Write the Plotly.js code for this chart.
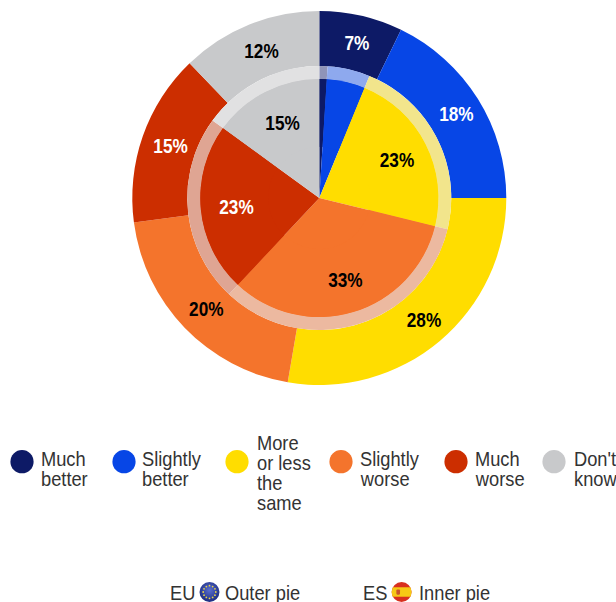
<!DOCTYPE html>
<html><head><meta charset="utf-8">
<script src="https://cdn.plot.ly/plotly-3.0.1.min.js"></script>
<style>html,body{margin:0;padding:0;background:#fff}</style></head>
<body><div id="chart" style="width:616px;height:602px"></div>
<script>
const categories = ["Much better","Slightly better","More or less the same","Slightly worse","Much worse","Don't know"];
const euOuter = [7.2,17.8,27.7,20.2,14.9,12.2];
const esInner = [1,5.2,22.6,33.2,23,15];
const euText = ["7%","18%","28%","20%","15%","12%"];
const esText = ["","","23%","33%","23%","15%"];
const colors = ["#0d1a66","#0746e6","#ffdd00","#f4742c","#cc2e00","#c8c9cb"];
const ringColors = ["#8f94b8","#8ea9ee","#f2e58c","#ecb9a0","#dfa593","#e1e1e2"];
const labelColors = ["#fff","#fff","#000","#000","#fff","#000"];
const legendLines = [["Much","better"],["Slightly","better"],["More","or less","the","same"],["Slightly","worse"],["Much","worse"],["Don't","know"]];
const legendDotX = [22,124,237,341,456,554];
const legendTextX = [41,142,257,360,475,574];

const W=616,H=602,CX=319.3,CY=198;
const FONT='"Liberation Sans",Arial,sans-serif';
const px=x=>x/W, py=y=>1-y/H;
const dom=r=>({x:[px(CX-r),px(CX+r)],y:[py(CY+r),py(CY-r)]});
const base={type:'pie',sort:false,direction:'clockwise',rotation:0,labels:categories,
  textposition:'inside',insidetextorientation:'horizontal',hoverinfo:'label+percent',showlegend:false};
const labelFont={family:FONT,size:21,color:labelColors,weight:'bold'};
const data=[
 Object.assign({},base,{values:euOuter,text:euText,textinfo:'text',hole:132/187,domain:dom(187),
   marker:{colors:colors,line:{width:0}},insidetextfont:labelFont}),
 Object.assign({},base,{values:esInner,textinfo:'none',hole:119/132,domain:dom(132),
   marker:{colors:ringColors,line:{width:0}}}),
 Object.assign({},base,{values:esInner,textinfo:'none',domain:dom(119),
   marker:{colors:colors,line:{width:0}}}),
 Object.assign({},base,{values:esInner,text:esText,textinfo:'text',hole:0.43,domain:dom(119),
   marker:{colors:colors,line:{width:0}},insidetextfont:labelFont})
];
const ann=(x,y,t)=>({xref:'paper',yref:'paper',x:px(x),y:py(y),text:t,showarrow:false,xanchor:'left',yanchor:'middle',
  font:{family:FONT,size:21,color:'#333'},borderpad:0,borderwidth:0,align:'left'});
const annotations=[],shapes=[];
legendLines.forEach((lines,i)=>{
  const y0=lines.length>2?442:458.5;
  lines.forEach((l,j)=>annotations.push(ann(legendTextX[i],y0+j*20.2,l)));
  shapes.push({type:'circle',xref:'paper',yref:'paper',x0:px(legendDotX[i]-11.6),x1:px(legendDotX[i]+11.6),
    y0:py(461.7+11.6),y1:py(461.7-11.6),fillcolor:colors[i],line:{width:0}});
});
annotations.push(ann(170,592,"EU"),ann(225,592,"Outer pie"),ann(363,592,"ES"),ann(419,592,"Inner pie"));
const euIcon='<svg xmlns="http://www.w3.org/2000/svg" width="40" height="40" viewBox="0 0 40 40"><defs><radialGradient id="g" cx="50%" cy="40%" r="60%"><stop offset="0" stop-color="#5a6fd0"/><stop offset="1" stop-color="#1a2a80"/></radialGradient></defs><circle cx="20" cy="20" r="19" fill="url(#g)"/><g fill="#e8d44a">'+
 [0,30,60,90,120,150,180,210,240,270,300,330].map(a=>'<circle cx="'+(20+12*Math.sin(a*Math.PI/180)).toFixed(1)+'" cy="'+(20-12*Math.cos(a*Math.PI/180)).toFixed(1)+'" r="1.7"/>').join('')+'</g></svg>';
const esIcon='<svg xmlns="http://www.w3.org/2000/svg" width="40" height="40" viewBox="0 0 40 40"><defs><clipPath id="c"><circle cx="20" cy="20" r="19"/></clipPath></defs><g clip-path="url(#c)"><rect width="40" height="40" fill="#d8301f"/><rect y="11" width="40" height="18" fill="#f6c915"/><rect x="10" y="15" width="7" height="10" rx="2" fill="#c9552a"/></g></svg>';
const uri=s=>'data:image/svg+xml;base64,'+btoa(s);
const icon=(s,x)=>({source:uri(s),xref:'paper',yref:'paper',x:px(x-10.5),y:py(592-10.5),sizex:21/W,sizey:21/H,sizing:'stretch',xanchor:'left',yanchor:'top',layer:'above'});
const layout={width:W,height:H,margin:{l:0,r:0,t:0,b:0},paper_bgcolor:'#fff',showlegend:false,
  annotations:annotations,shapes:shapes,images:[icon(euIcon,209.5),icon(esIcon,401.6)]};
Plotly.newPlot('chart',data,layout,{displayModeBar:false,responsive:false}).then(gd=>{
  gd.querySelectorAll('.annotation-text').forEach(t=>{
    const b=t.getBBox(),tr=t.getAttribute('transform')||'';
    t.setAttribute('transform',tr+' translate('+b.x+',0) scale(0.87,1) translate('+(-b.x)+',0)');
  });
  gd.querySelectorAll('.slicetext text').forEach(t=>{
    const b=t.getBBox(),c=b.x+b.width/2,tr=t.getAttribute('transform')||'';
    t.setAttribute('transform',tr+' translate('+(c+2)+',0) scale(0.82,1) translate('+(-c)+',0)');
  });
});
</script></body></html>
